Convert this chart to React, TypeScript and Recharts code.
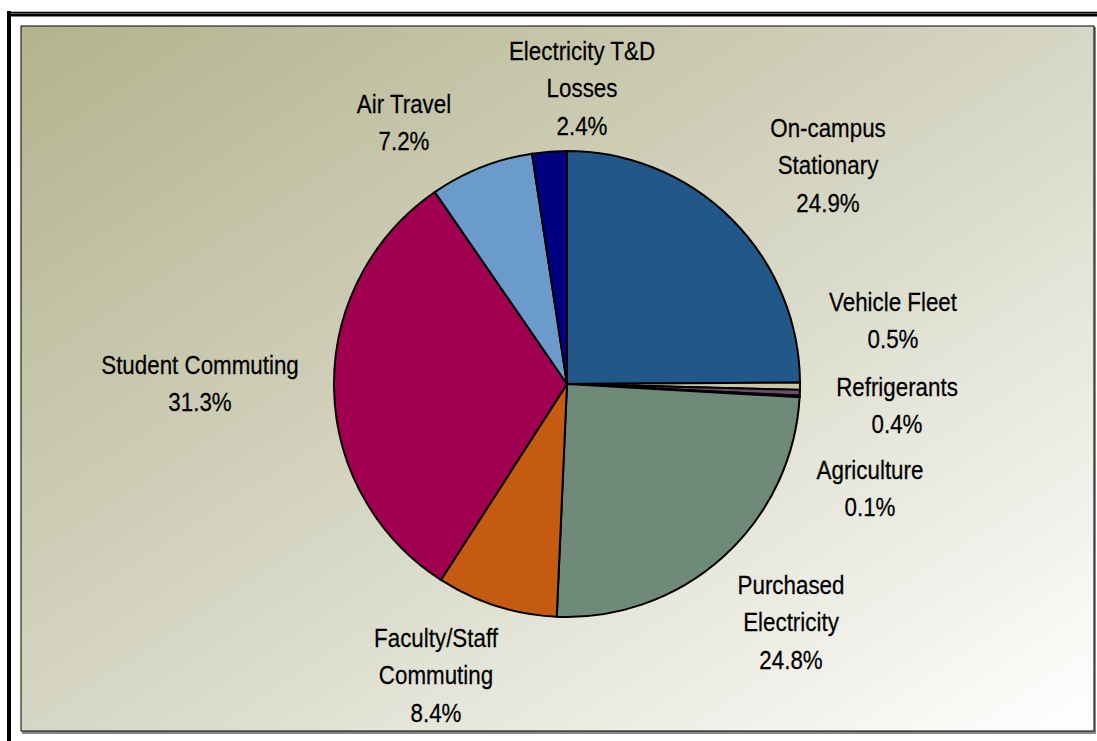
import { Cell, Pie, PieChart } from "recharts";

const categories = [
  ["On-campus", "Stationary"],
  ["Vehicle Fleet"],
  ["Refrigerants"],
  ["Agriculture"],
  ["Purchased", "Electricity"],
  ["Faculty/Staff", "Commuting"],
  ["Student Commuting"],
  ["Air Travel"],
  ["Electricity T&D", "Losses"],
];
const shares = [24.9, 0.5, 0.4, 0.1, 24.8, 8.4, 31.3, 7.2, 2.4];
const colors = [
  "#22578a",
  "#c8c8a2",
  "#704b70",
  "#3f7f6a",
  "#6f8a78",
  "#c55a11",
  "#a10050",
  "#6a9bcb",
  "#000080",
];

// label block centre, relative to the pie centre (Excel "best fit" placement)
const labelOffset = [
  [261, -219],
  [326, -64],
  [330, 21],
  [303, 104],
  [224, 238],
  [-131, 291],
  [-367, -1],
  [-163, -262],
  [15, -296],
];

const data = categories.map((c, i) => ({ name: c.join(" "), lines: c, value: shares[i] }));

const LINE = 37.5;

function renderLabel(props: any) {
  const { cx, cy, index } = props;
  const d = data[index];
  const lines = [...d.lines, `${d.value.toFixed(1)}%`];
  const [ox, oy] = labelOffset[index];
  const top = -((lines.length - 1) * LINE) / 2;
  return (
    <g transform={`translate(${cx + ox},${cy + oy}) scale(0.86,1)`}>
      <text
        textAnchor="middle"
        fontFamily="'Liberation Sans', Arial, sans-serif"
        fontSize={26}
        fill="#000"
        stroke="#000"
        strokeWidth={0.25}
      >
        {lines.map((l, i) => (
          <tspan key={i} x={0} y={top + i * LINE} dy="0.36em">
            {l}
          </tspan>
        ))}
      </text>
    </g>
  );
}

export default function App() {
  return (
    <div style={{ position: "fixed", left: 0, top: 0, width: 1097, height: 741, background: "#fff" }}>
      <svg width={1097} height={741} style={{ position: "absolute", left: 0, top: 0 }}>
        <defs>
          <linearGradient id="bg" x1="0" y1="0" x2="1" y2="1">
            <stop offset="0" stopColor="#b3b38d" />
            <stop offset="0.5" stopColor="#d6d6c4" />
            <stop offset="1" stopColor="#ffffff" />
          </linearGradient>
        </defs>
        <line x1={7} y1={12.5} x2={1097} y2={12.5} stroke="#000" strokeWidth={1.5} />
        <line x1={7} y1={15} x2={1097} y2={15} stroke="#000" strokeWidth={3} />
        <rect x={7} y={11} width={4} height={730} fill="#000" />
        <rect x={22} y={27} width={1074} height={707} fill="#888" />
        <rect x={21} y={26} width={1073} height={705} fill="url(#bg)" stroke="#000" strokeWidth={1} />
      </svg>
      <div style={{ position: "absolute", left: 0, top: 0 }}>
        <PieChart width={1097} height={741} margin={{ top: 0, right: 0, bottom: 0, left: 0 }}>
          <Pie
            data={data}
            dataKey="value"
            cx={567}
            cy={384}
            outerRadius={233}
            startAngle={90}
            endAngle={-270}
            stroke="#000"
            strokeWidth={2}
            label={renderLabel}
            labelLine={false}
            isAnimationActive={false}
          >
            {data.map((d, i) => (
              <Cell key={d.name} fill={colors[i]} />
            ))}
          </Pie>
        </PieChart>
      </div>
    </div>
  );
}
